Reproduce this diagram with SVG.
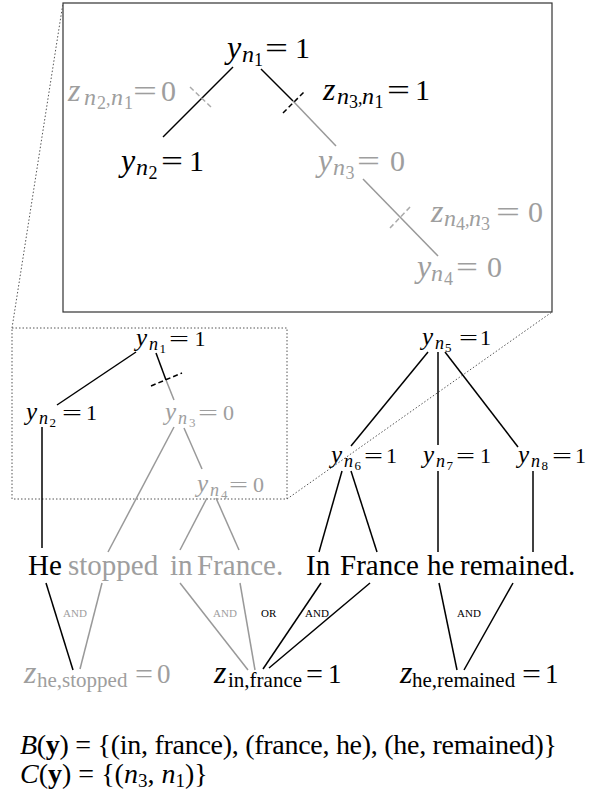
<svg xmlns="http://www.w3.org/2000/svg" width="595" height="790" viewBox="0 0 595 790">
<style>
text{font-family:'Liberation Serif','DejaVu Serif',serif;fill:#000}
.i{font-style:italic}
.b{font-weight:bold}
.g{fill:#9e9e9e}
.tm{font-size:32px;font-style:italic}
.ts{font-size:24px;font-style:italic}
.tss{font-size:18px;font-style:normal}
.td{font-size:30px}
.lm{font-size:25px;font-style:italic}
.ls{font-size:18px;font-style:italic}
.lss{font-size:13px;font-style:normal}
.ld{font-size:22px}
.sent{font-size:29px}
.zm{font-size:32px;font-style:italic}
.zs{font-size:21px}
.zd{font-size:27px}
.op{font-size:11px}
.eq{font-size:28px}
.k{stroke:#000;stroke-width:1.5;fill:none}
.gl{stroke:#999;stroke-width:1.5;fill:none}
.dk{stroke:#000;stroke-width:1.5;stroke-dasharray:5 3;fill:none}
.dg{stroke:#aaa;stroke-width:1.5;stroke-dasharray:5 3;fill:none}
.dot{stroke:#555;stroke-width:1;stroke-dasharray:1.5 2;fill:none}
</style>

<g id="zoom-frame">
<rect x="63" y="3" width="489" height="309" fill="none" stroke="#333" stroke-width="1.2"/>
<rect class="dot" x="12" y="328" width="275" height="171"/>
<line class="dot" x1="12" y1="328" x2="63" y2="3"/>
<line class="dot" x1="287" y1="499" x2="552" y2="312"/>
</g>

<g id="connectors">
<line class="k" x1="233" y1="67" x2="163" y2="137"/>
<line class="dg" x1="190" y1="87" x2="212" y2="108"/>
<line class="k" x1="261" y1="69" x2="293" y2="101"/>
<line class="gl" x1="293" y1="101" x2="336" y2="146"/>
<line class="dk" x1="283" y1="113" x2="304" y2="92"/>
<line class="gl" x1="363" y1="179" x2="438" y2="256"/>
<line class="dg" x1="390" y1="228" x2="411" y2="206"/>
<line class="k" x1="136" y1="352" x2="57" y2="405"/>
<line class="k" x1="156" y1="353" x2="166" y2="380"/>
<line class="gl" x1="166" y1="380" x2="174" y2="400"/>
<line class="dk" x1="151" y1="386" x2="182" y2="373"/>
<line class="gl" x1="174" y1="427" x2="108" y2="552"/>
<line class="gl" x1="184" y1="428" x2="202" y2="469"/>
<line class="gl" x1="207" y1="498" x2="180" y2="550"/>
<line class="gl" x1="216" y1="498" x2="239" y2="550"/>
<line class="k" x1="42" y1="427" x2="42" y2="548"/>
<line class="k" x1="428" y1="352" x2="351" y2="446"/>
<line class="k" x1="438" y1="352" x2="438" y2="445"/>
<line class="k" x1="445" y1="352" x2="518" y2="447"/>
<line class="k" x1="342" y1="471" x2="319" y2="552"/>
<line class="k" x1="351" y1="471" x2="377" y2="552"/>
<line class="k" x1="438" y1="471" x2="438" y2="552"/>
<line class="k" x1="533" y1="471" x2="533" y2="552"/>
<line class="k" x1="46" y1="583" x2="73" y2="670"/>
<line class="gl" x1="102" y1="583" x2="80" y2="669"/>
<line class="gl" x1="180" y1="583" x2="248" y2="670"/>
<line class="gl" x1="240" y1="583" x2="255" y2="670"/>
<line class="k" x1="321" y1="583" x2="263" y2="669"/>
<line class="k" x1="370" y1="583" x2="269" y2="668"/>
<line class="k" x1="439" y1="583" x2="457" y2="670"/>
<line class="k" x1="513" y1="583" x2="464" y2="670"/>
</g>

<!-- zoomed (top) labels -->
<g id="zy1">
<text><tspan class="tm" x="227" y="58">y</tspan><tspan class="ts" x="242" y="62">n</tspan><tspan class="tss" x="254" y="66">1</tspan></text>
<text class="td" x="265" y="58" textLength="23" lengthAdjust="spacingAndGlyphs">=</text>
<text class="td" x="295" y="58">1</text>
</g>
<g id="zz21">
<text class="g"><tspan class="tm g" x="68" y="101">z</tspan><tspan class="ts g" x="84" y="105">n</tspan><tspan class="tss g" x="97" y="109">2</tspan><tspan class="tss g" x="106" y="105" font-size="22">,</tspan><tspan class="ts g" x="111" y="105">n</tspan><tspan class="tss g" x="124" y="109">1</tspan></text>
<text class="td g" x="133" y="101" textLength="24" lengthAdjust="spacingAndGlyphs">=</text>
<text class="td g" x="161" y="101">0</text>
</g>
<g id="zz31">
<text><tspan class="tm" x="323" y="100">z</tspan><tspan class="ts" x="337" y="104">n</tspan><tspan class="tss" x="349" y="108">3</tspan><tspan class="tss" x="358" y="104" font-size="22">,</tspan><tspan class="ts" x="362" y="104">n</tspan><tspan class="tss" x="374.5" y="108">1</tspan></text>
<text class="td" x="387" y="100" textLength="23" lengthAdjust="spacingAndGlyphs">=</text>
<text class="td" x="415" y="100">1</text>
</g>
<g id="zy2">
<text><tspan class="tm" x="121" y="171">y</tspan><tspan class="ts" x="136" y="175">n</tspan><tspan class="tss" x="148.5" y="179">2</tspan></text>
<text class="td" x="161" y="171" textLength="22" lengthAdjust="spacingAndGlyphs">=</text>
<text class="td" x="189" y="171">1</text>
</g>
<g id="zy3">
<text class="g"><tspan class="tm g" x="318" y="171">y</tspan><tspan class="ts g" x="333" y="175">n</tspan><tspan class="tss g" x="345.5" y="179">3</tspan></text>
<text class="td g" x="357" y="171" textLength="23" lengthAdjust="spacingAndGlyphs">=</text>
<text class="td g" x="390" y="171">0</text>
</g>
<g id="zz43">
<text class="g"><tspan class="tm g" x="431" y="222">z</tspan><tspan class="ts g" x="444" y="226">n</tspan><tspan class="tss g" x="456" y="230">4</tspan><tspan class="tss g" x="465" y="226" font-size="22">,</tspan><tspan class="ts g" x="469" y="226">n</tspan><tspan class="tss g" x="481" y="230">3</tspan></text>
<text class="td g" x="496" y="222" textLength="24" lengthAdjust="spacingAndGlyphs">=</text>
<text class="td g" x="528" y="222">0</text>
</g>
<g id="zy4">
<text class="g"><tspan class="tm g" x="417" y="277">y</tspan><tspan class="ts g" x="431" y="281">n</tspan><tspan class="tss g" x="444" y="285">4</tspan></text>
<text class="td g" x="456" y="277" textLength="22" lengthAdjust="spacingAndGlyphs">=</text>
<text class="td g" x="487" y="277">0</text>
</g>

<!-- lower trees -->
<g id="y1">
<text><tspan class="lm" x="136" y="346">y</tspan><tspan class="ls" x="149" y="350">n</tspan><tspan class="lss" x="159.5" y="353">1</tspan></text>
<text class="ld" x="169" y="346" textLength="20" lengthAdjust="spacingAndGlyphs">=</text>
<text class="ld" x="194.5" y="346">1</text>
</g>
<g id="y2">
<text><tspan class="lm" x="26" y="420">y</tspan><tspan class="ls" x="39" y="424">n</tspan><tspan class="lss" x="49.5" y="427">2</tspan></text>
<text class="ld" x="62" y="420" textLength="20" lengthAdjust="spacingAndGlyphs">=</text>
<text class="ld" x="86" y="420">1</text>
</g>
<g id="y3">
<text class="g"><tspan class="lm g" x="165" y="420">y</tspan><tspan class="ls g" x="178" y="424">n</tspan><tspan class="lss g" x="189" y="427">3</tspan></text>
<text class="ld g" x="198" y="420" textLength="20" lengthAdjust="spacingAndGlyphs">=</text>
<text class="ld g" x="223" y="420">0</text>
</g>
<g id="y4">
<text class="g"><tspan class="lm g" x="197" y="492">y</tspan><tspan class="ls g" x="210" y="496">n</tspan><tspan class="lss g" x="221" y="499">4</tspan></text>
<text class="ld g" x="229" y="492" textLength="19" lengthAdjust="spacingAndGlyphs">=</text>
<text class="ld g" x="253" y="492">0</text>
</g>
<g id="y5">
<text><tspan class="lm" x="422" y="345">y</tspan><tspan class="ls" x="435" y="349">n</tspan><tspan class="lss" x="445" y="352">5</tspan></text>
<text class="ld" x="459" y="345" textLength="19" lengthAdjust="spacingAndGlyphs">=</text>
<text class="ld" x="480" y="345">1</text>
</g>
<g id="y6">
<text><tspan class="lm" x="331" y="463">y</tspan><tspan class="ls" x="344" y="467">n</tspan><tspan class="lss" x="354.5" y="470">6</tspan></text>
<text class="ld" x="364" y="463" textLength="19" lengthAdjust="spacingAndGlyphs">=</text>
<text class="ld" x="386" y="463">1</text>
</g>
<g id="y7">
<text><tspan class="lm" x="423" y="463">y</tspan><tspan class="ls" x="436" y="467">n</tspan><tspan class="lss" x="446.5" y="470">7</tspan></text>
<text class="ld" x="456" y="463" textLength="19" lengthAdjust="spacingAndGlyphs">=</text>
<text class="ld" x="480" y="463">1</text>
</g>
<g id="y8">
<text><tspan class="lm" x="518" y="463">y</tspan><tspan class="ls" x="531" y="467">n</tspan><tspan class="lss" x="541.5" y="470">8</tspan></text>
<text class="ld" x="552" y="463" textLength="20" lengthAdjust="spacingAndGlyphs">=</text>
<text class="ld" x="575" y="463">1</text>
</g>

<g id="sentence1">
<text class="sent"><tspan x="28" y="575">He</tspan><tspan class="g" x="68" y="575">stopped</tspan><tspan class="g" x="170" y="575">in</tspan><tspan class="g" x="197" y="575">France.</tspan></text>
</g>
<g id="sentence2">
<text class="sent"><tspan x="306" y="575">In</tspan><tspan x="340" y="575">France</tspan><tspan x="427" y="575">he</tspan><tspan x="460" y="575">remained.</tspan></text>
</g>

<g id="ops">
<text class="op g" x="63" y="617">AND</text>
<text class="op g" x="213" y="617">AND</text>
<text class="op" x="261" y="617" font-size="12">OR</text>
<text class="op" x="305" y="617">AND</text>
<text class="op" x="457" y="617">AND</text>
</g>

<g id="z-he-stopped">
<text class="g"><tspan class="zm g" x="24" y="683">z</tspan><tspan class="zs g" x="37" y="687">he,stopped</tspan></text>
<text class="zd g" x="135" y="683" textLength="18" lengthAdjust="spacingAndGlyphs">=</text>
<text class="zd g" x="157" y="683">0</text>
</g>
<g id="z-in-france">
<text><tspan class="zm" x="214" y="683">z</tspan><tspan class="zs" x="228" y="687" font-size="20">in,france</tspan></text>
<text class="zd" x="306" y="683" textLength="17" lengthAdjust="spacingAndGlyphs">=</text>
<text class="zd" x="328" y="683">1</text>
</g>
<g id="z-he-remained">
<text><tspan class="zm" x="400" y="683">z</tspan><tspan class="zs" x="412" y="687">he,remained</tspan></text>
<text class="zd" x="522" y="683" textLength="19" lengthAdjust="spacingAndGlyphs">=</text>
<text class="zd" x="545" y="683">1</text>
</g>

<g id="eqB">
<text class="eq" x="20" y="754" textLength="537" lengthAdjust="spacing"><tspan class="i">B</tspan>(<tspan class="b">y</tspan>) = {(in, france), (france, he), (he, remained)}</text>
</g>
<g id="eqC">
<text class="eq" x="20" y="783"><tspan class="i">C</tspan>(<tspan class="b">y</tspan>) = {(<tspan class="i">n</tspan><tspan font-size="19" dy="4">3</tspan><tspan dy="-4">, </tspan><tspan class="i">n</tspan><tspan font-size="19" dy="4">1</tspan><tspan dy="-4">)}</tspan></text>
</g>
</svg>
